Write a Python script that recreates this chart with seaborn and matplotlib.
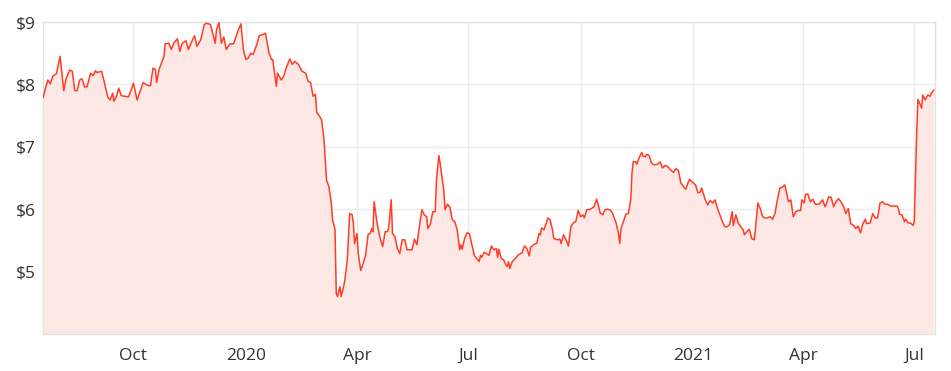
import matplotlib
matplotlib.use("Agg")
import matplotlib.pyplot as plt
import seaborn as sns
import pandas as pd

dates = [
    "2019-07-19", "2019-07-21", "2019-07-23", "2019-07-25", "2019-07-27", "2019-07-30",
    "2019-08-02", "2019-08-05", "2019-08-07", "2019-08-10", "2019-08-12", "2019-08-14",
    "2019-08-16", "2019-08-18", "2019-08-20", "2019-08-22", "2019-08-24", "2019-08-27",
    "2019-08-29", "2019-08-31", "2019-09-01", "2019-09-05", "2019-09-07", "2019-09-10",
    "2019-09-12", "2019-09-14", "2019-09-15", "2019-09-17", "2019-09-19", "2019-09-21",
    "2019-09-27", "2019-09-29", "2019-10-01", "2019-10-04", "2019-10-09", "2019-10-13",
    "2019-10-15", "2019-10-17", "2019-10-19", "2019-10-20", "2019-10-22", "2019-10-26",
    "2019-10-27", "2019-10-30", "2019-11-01", "2019-11-03", "2019-11-06", "2019-11-08",
    "2019-11-10", "2019-11-13", "2019-11-15", "2019-11-18", "2019-11-20", "2019-11-22",
    "2019-11-25", "2019-11-28", "2019-11-30", "2019-12-03", "2019-12-07", "2019-12-08",
    "2019-12-10", "2019-12-12", "2019-12-14", "2019-12-16", "2019-12-19", "2019-12-22",
    "2019-12-24", "2019-12-26", "2019-12-28", "2019-12-30", "2020-01-01", "2020-01-03",
    "2020-01-05", "2020-01-07", "2020-01-10", "2020-01-12", "2020-01-15", "2020-01-17",
    "2020-01-20", "2020-01-22", "2020-01-23", "2020-01-26", "2020-01-27", "2020-01-30",
    "2020-02-01", "2020-02-03", "2020-02-06", "2020-02-08", "2020-02-10", "2020-02-13",
    "2020-02-16", "2020-02-19", "2020-02-21", "2020-02-23", "2020-02-25", "2020-02-27",
    "2020-02-28", "2020-03-01", "2020-03-03", "2020-03-05", "2020-03-07", "2020-03-09",
    "2020-03-11", "2020-03-12", "2020-03-14", "2020-03-15", "2020-03-16", "2020-03-18",
    "2020-03-19", "2020-03-21", "2020-03-22", "2020-03-24", "2020-03-26", "2020-03-28",
    "2020-03-29", "2020-03-30", "2020-04-01", "2020-04-02", "2020-04-04", "2020-04-06",
    "2020-04-08", "2020-04-10", "2020-04-12", "2020-04-13", "2020-04-14", "2020-04-15",
    "2020-04-17", "2020-04-19", "2020-04-20", "2020-04-22", "2020-04-24", "2020-04-26",
    "2020-04-27", "2020-04-29", "2020-04-30", "2020-05-02", "2020-05-04", "2020-05-06",
    "2020-05-08", "2020-05-10", "2020-05-12", "2020-05-16", "2020-05-18", "2020-05-20",
    "2020-05-22", "2020-05-24", "2020-05-26", "2020-05-28", "2020-05-29", "2020-05-31",
    "2020-06-02", "2020-06-04", "2020-06-05", "2020-06-07", "2020-06-08", "2020-06-10",
    "2020-06-11", "2020-06-12", "2020-06-14", "2020-06-16", "2020-06-18", "2020-06-20",
    "2020-06-22", "2020-06-24", "2020-06-25", "2020-06-26", "2020-06-28", "2020-06-30",
    "2020-07-02", "2020-07-04", "2020-07-06", "2020-07-08", "2020-07-10", "2020-07-11",
    "2020-07-12", "2020-07-14", "2020-07-16", "2020-07-18", "2020-07-20", "2020-07-22",
    "2020-07-24", "2020-07-25", "2020-07-26", "2020-07-28", "2020-07-30", "2020-08-01",
    "2020-08-02", "2020-08-03", "2020-08-04", "2020-08-06", "2020-08-09", "2020-08-11",
    "2020-08-14", "2020-08-16", "2020-08-18", "2020-08-20", "2020-08-21", "2020-08-24",
    "2020-08-26", "2020-08-28", "2020-08-29", "2020-08-30", "2020-09-01", "2020-09-03",
    "2020-09-04", "2020-09-06", "2020-09-08", "2020-09-09", "2020-09-12", "2020-09-14",
    "2020-09-15", "2020-09-17", "2020-09-19", "2020-09-21", "2020-09-23", "2020-09-25",
    "2020-09-27", "2020-09-29", "2020-10-01", "2020-10-03", "2020-10-04", "2020-10-06",
    "2020-10-09", "2020-10-12", "2020-10-14", "2020-10-15", "2020-10-17", "2020-10-19",
    "2020-10-21", "2020-10-23", "2020-10-25", "2020-10-27", "2020-10-29", "2020-10-30",
    "2020-11-01", "2020-11-02", "2020-11-03", "2020-11-05", "2020-11-07", "2020-11-09",
    "2020-11-11", "2020-11-12", "2020-11-13", "2020-11-15", "2020-11-16", "2020-11-18",
    "2020-11-20", "2020-11-21", "2020-11-23", "2020-11-24", "2020-11-26", "2020-11-28",
    "2020-11-30", "2020-12-03", "2020-12-05", "2020-12-07", "2020-12-09", "2020-12-11",
    "2020-12-13", "2020-12-16", "2020-12-18", "2020-12-20", "2020-12-22", "2020-12-24",
    "2020-12-26", "2020-12-29", "2020-12-31", "2021-01-03", "2021-01-05", "2021-01-07",
    "2021-01-08", "2021-01-11", "2021-01-13", "2021-01-15", "2021-01-17", "2021-01-19",
    "2021-01-21", "2021-01-23", "2021-01-25", "2021-01-27", "2021-01-29", "2021-01-31",
    "2021-02-02", "2021-02-03", "2021-02-05", "2021-02-07", "2021-02-09", "2021-02-11",
    "2021-02-12", "2021-02-14", "2021-02-16", "2021-02-18", "2021-02-20", "2021-02-21",
    "2021-02-23", "2021-02-25", "2021-02-27", "2021-03-01", "2021-03-03", "2021-03-05",
    "2021-03-07", "2021-03-09", "2021-03-11", "2021-03-13", "2021-03-15", "2021-03-17",
    "2021-03-18", "2021-03-20", "2021-03-22", "2021-03-24", "2021-03-26", "2021-03-28",
    "2021-03-30", "2021-03-31", "2021-04-02", "2021-04-03", "2021-04-05", "2021-04-07",
    "2021-04-09", "2021-04-11", "2021-04-14", "2021-04-17", "2021-04-19", "2021-04-20",
    "2021-04-22", "2021-04-24", "2021-04-26", "2021-04-28", "2021-04-30", "2021-05-02",
    "2021-05-04", "2021-05-06", "2021-05-08", "2021-05-10", "2021-05-13", "2021-05-14",
    "2021-05-16", "2021-05-18", "2021-05-20", "2021-05-22", "2021-05-23", "2021-05-26",
    "2021-05-28", "2021-05-30", "2021-06-01", "2021-06-03", "2021-06-05", "2021-06-07",
    "2021-06-09", "2021-06-12", "2021-06-14", "2021-06-17", "2021-06-18", "2021-06-19",
    "2021-06-21", "2021-06-23", "2021-06-24", "2021-06-26", "2021-06-28", "2021-06-30",
    "2021-07-01", "2021-07-03", "2021-07-04", "2021-07-06", "2021-07-07", "2021-07-08",
    "2021-07-10", "2021-07-12", "2021-07-14", "2021-07-15", "2021-07-17",
]

prices = [
    7.78, 7.94, 8.07, 8.01, 8.13, 8.17,
    8.45, 7.90, 8.10, 8.23, 8.21, 7.90,
    7.90, 8.07, 8.09, 7.96, 7.96, 8.18,
    8.14, 8.22, 8.19, 8.21, 8.05, 7.80,
    7.75, 7.86, 7.73, 7.80, 7.94, 7.82,
    7.80, 7.90, 8.02, 7.75, 8.03, 7.98,
    7.98, 8.26, 8.24, 8.03, 8.24, 8.45,
    8.65, 8.66, 8.56, 8.66, 8.73, 8.53,
    8.66, 8.70, 8.56, 8.70, 8.78, 8.61,
    8.71, 8.96, 8.98, 8.96, 8.66, 8.88,
    8.99, 8.66, 8.76, 8.56, 8.65, 8.65,
    8.77, 8.88, 8.97, 8.56, 8.40, 8.42,
    8.50, 8.48, 8.64, 8.78, 8.80, 8.82,
    8.50, 8.40, 8.40, 7.97, 8.18, 8.07,
    8.13, 8.26, 8.41, 8.32, 8.37, 8.32,
    8.21, 8.18, 8.05, 8.03, 7.81, 7.84,
    7.55, 7.50, 7.43, 7.11, 6.47, 6.36,
    6.09, 5.83, 5.67, 4.65, 4.60, 4.76,
    4.60, 4.76, 4.86, 5.18, 5.93, 5.91,
    5.77, 5.45, 5.61, 5.29, 5.02, 5.13,
    5.26, 5.59, 5.62, 5.69, 5.64, 6.12,
    5.83, 5.61, 5.53, 5.40, 5.64, 5.64,
    5.72, 6.15, 5.61, 5.56, 5.37, 5.29,
    5.51, 5.51, 5.35, 5.35, 5.52, 5.43,
    5.72, 5.99, 5.91, 5.88, 5.69, 5.76,
    5.96, 5.96, 6.47, 6.86, 6.74, 6.44,
    6.31, 5.99, 6.08, 6.03, 5.83, 5.80,
    5.67, 5.35, 5.43, 5.36, 5.53, 5.62,
    5.61, 5.43, 5.26, 5.21, 5.16, 5.26,
    5.23, 5.31, 5.29, 5.26, 5.41, 5.35,
    5.37, 5.23, 5.36, 5.21, 5.19, 5.10,
    5.08, 5.16, 5.05, 5.16, 5.22, 5.27,
    5.30, 5.41, 5.37, 5.25, 5.39, 5.44,
    5.45, 5.61, 5.59, 5.70, 5.67, 5.78,
    5.86, 5.83, 5.67, 5.53, 5.51, 5.52,
    5.45, 5.59, 5.51, 5.41, 5.72, 5.78,
    5.80, 5.98, 5.88, 5.91, 5.86, 5.99,
    6.00, 6.04, 6.16, 6.10, 5.94, 5.91,
    5.99, 6.00, 5.99, 5.94, 5.83, 5.78,
    5.61, 5.45, 5.69, 5.80, 5.92, 5.93,
    6.15, 6.58, 6.76, 6.76, 6.72, 6.83,
    6.91, 6.85, 6.84, 6.88, 6.86, 6.74,
    6.71, 6.72, 6.76, 6.66, 6.70, 6.69,
    6.64, 6.59, 6.65, 6.62, 6.42, 6.37,
    6.32, 6.48, 6.44, 6.39, 6.26, 6.28,
    6.34, 6.15, 6.07, 6.14, 6.10, 6.15,
    6.01, 5.91, 5.80, 5.72, 5.72, 5.76,
    5.96, 5.74, 5.91, 5.78, 5.72, 5.67,
    5.59, 5.64, 5.68, 5.53, 5.51, 5.67,
    6.10, 6.01, 5.88, 5.86, 5.86, 5.88,
    5.84, 5.93, 6.15, 6.34, 6.35, 6.39,
    6.31, 6.12, 6.15, 5.88, 5.96, 5.98,
    5.98, 6.15, 6.10, 6.24, 6.24, 6.12,
    6.16, 6.08, 6.08, 6.15, 6.04, 6.08,
    6.20, 6.19, 6.04, 6.12, 6.17, 6.12,
    6.05, 5.93, 6.01, 5.77, 5.73, 5.69,
    5.73, 5.62, 5.77, 5.84, 5.77, 5.78,
    5.93, 5.86, 5.86, 6.10, 6.12, 6.08,
    6.08, 6.05, 6.05, 6.05, 6.01, 5.92,
    5.91, 5.80, 5.84, 5.78, 5.78, 5.74,
    5.80, 7.22, 7.76, 7.67, 7.62, 7.83,
    7.75, 7.83, 7.81, 7.86, 7.91,
]

y_ticks = [5, 6, 7, 8, 9]
y_tick_labels = ["$5", "$6", "$7", "$8", "$9"]
x_ticks = ["2019-10-01", "2020-01-01", "2020-04-01", "2020-07-01",
           "2020-10-01", "2021-01-01", "2021-04-01", "2021-07-01"]
x_tick_labels = ["Oct", "2020", "Apr", "Jul", "Oct", "2021", "Apr", "Jul"]

df = pd.DataFrame({"date": pd.to_datetime(dates), "price": prices})

sns.set_theme(style="white")
plt.rcParams["font.family"] = ["Open Sans", "DejaVu Sans"]

line_color = "#ff3d24"
fig = plt.figure(figsize=(9.51, 3.71), dpi=100)
ax = fig.add_axes([0.0452, 0.0997, 0.9380, 0.8410])

ax.fill_between(df["date"], df["price"], 4, color="#fde8e6", zorder=1, linewidth=0)
sns.lineplot(data=df, x="date", y="price", ax=ax, color=line_color,
             linewidth=1.1, zorder=3)

ax.set_ylim(4, 9)
ax.set_xlim(pd.Timestamp("2019-07-19"), pd.Timestamp("2021-07-18"))
ax.set_yticks(y_ticks)
ax.set_yticklabels(y_tick_labels)
ax.set_xticks(pd.to_datetime(x_ticks))
ax.set_xticklabels(x_tick_labels)

ax.grid(True, color="#ececec", linewidth=1.0, zorder=0)
ax.set_axisbelow(True)
for s in ax.spines.values():
    s.set_color("#e2e2e2")
    s.set_linewidth(1.0)

ax.tick_params(axis="both", length=0, labelsize=12.5, colors="#333333")
ax.tick_params(axis="y", pad=5)
ax.tick_params(axis="x", pad=10)
ax.set_xlabel("")
ax.set_ylabel("")

fig.savefig("out.png", dpi=100)
